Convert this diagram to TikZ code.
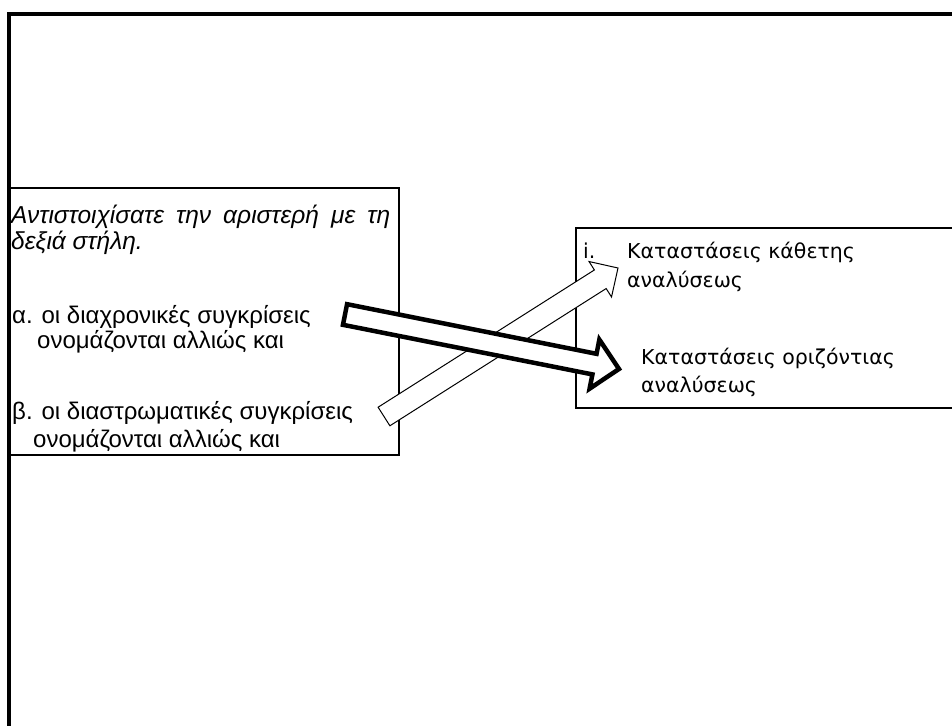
\documentclass[tikz,border=0pt]{standalone}
\usepackage{fontspec}
\setmainfont{Liberation Sans}
\newfontfamily\comicfont{DejaVu Sans}
\usetikzlibrary{calc}
\newcommand\blockarrow[6]{%
  \coordinate (#2-b) at ($(#3)!#6!(#2)$);
  \draw[#1] ($(#2)!#4!90:(#3)$) -- ($(#2-b)!#4!90:(#3)$) -- ($(#2-b)!#5!90:(#3)$) -- (#3)
    -- ($(#2-b)!#5!-90:(#3)$) -- ($(#2-b)!#4!-90:(#3)$) -- ($(#2)!#4!-90:(#3)$) -- cycle;
}
\begin{document}
\begin{tikzpicture}[x=1pt,y=-1pt,
  frameline/.style={line width=3.5pt,black},
  boxline/.style={line width=2.2pt,black},
  lefttext/.style={anchor=base west,inner sep=0pt,font=\fontsize{24}{26}\selectfont},
  asktext/.style={anchor=base west,inner sep=0pt,font=\fontsize{24.5}{26}\selectfont\itshape},
  righttext/.style={anchor=base west,inner sep=0pt,font=\comicfont\fontsize{20.5}{26}\selectfont},
  thinarrow/.style={draw=black,fill=white,line width=1pt,line join=miter},
  thickarrow/.style={draw=black,fill=white,line width=4.5pt,line join=miter}]
\useasboundingbox (0,0) rectangle (952,725);
\fill[white] (-10,-10) rectangle (965,740);
% outer frame
\draw[frameline] (9,740) -- (9,14) -- (965,14);
% boxes
\draw[boxline] (9,188) rectangle (399,455);
\draw[boxline] (965,228) -- (576,228) -- (576,408) -- (965,408);
% left texts
\node[asktext] (q1) at (11,223) {\makebox[379pt][s]{Αντιστοιχίσατε την αριστερή με τη}};
\node[asktext] (q2) at (11,249) {δεξιά στήλη.};
\node[lefttext] (a1) at (12,323) {α. οι διαχρονικές συγκρίσεις};
\node[lefttext] (a2) at (37,348) {ονομάζονται αλλιώς και};
\node[lefttext] (b1) at (12,419) {β. οι διαστρωματικές συγκρίσεις};
\node[lefttext] (b2) at (33,447) {ονομάζονται αλλιώς και};
% right texts
\node[righttext] (ri) at (583,258) {i.};
\node[righttext] (r1) at (627,258) {Καταστάσεις κάθετης};
\node[righttext] (r2) at (627,287) {αναλύσεως};
\node[righttext] (r3) at (641,364) {Καταστάσεις οριζόντιας};
\node[righttext] (r4) at (641,392) {αναλύσεως};
% arrows
\coordinate (tb) at (384,416.5);
\coordinate (pb) at (618,268);
\blockarrow{thinarrow}{tb}{pb}{11pt}{21pt}{21pt}
\coordinate (ta) at (345,314.5);
\coordinate (pa) at (619,369);
\blockarrow{thickarrow}{ta}{pa}{10.5pt}{25pt}{25pt}
\end{tikzpicture}
\end{document}
